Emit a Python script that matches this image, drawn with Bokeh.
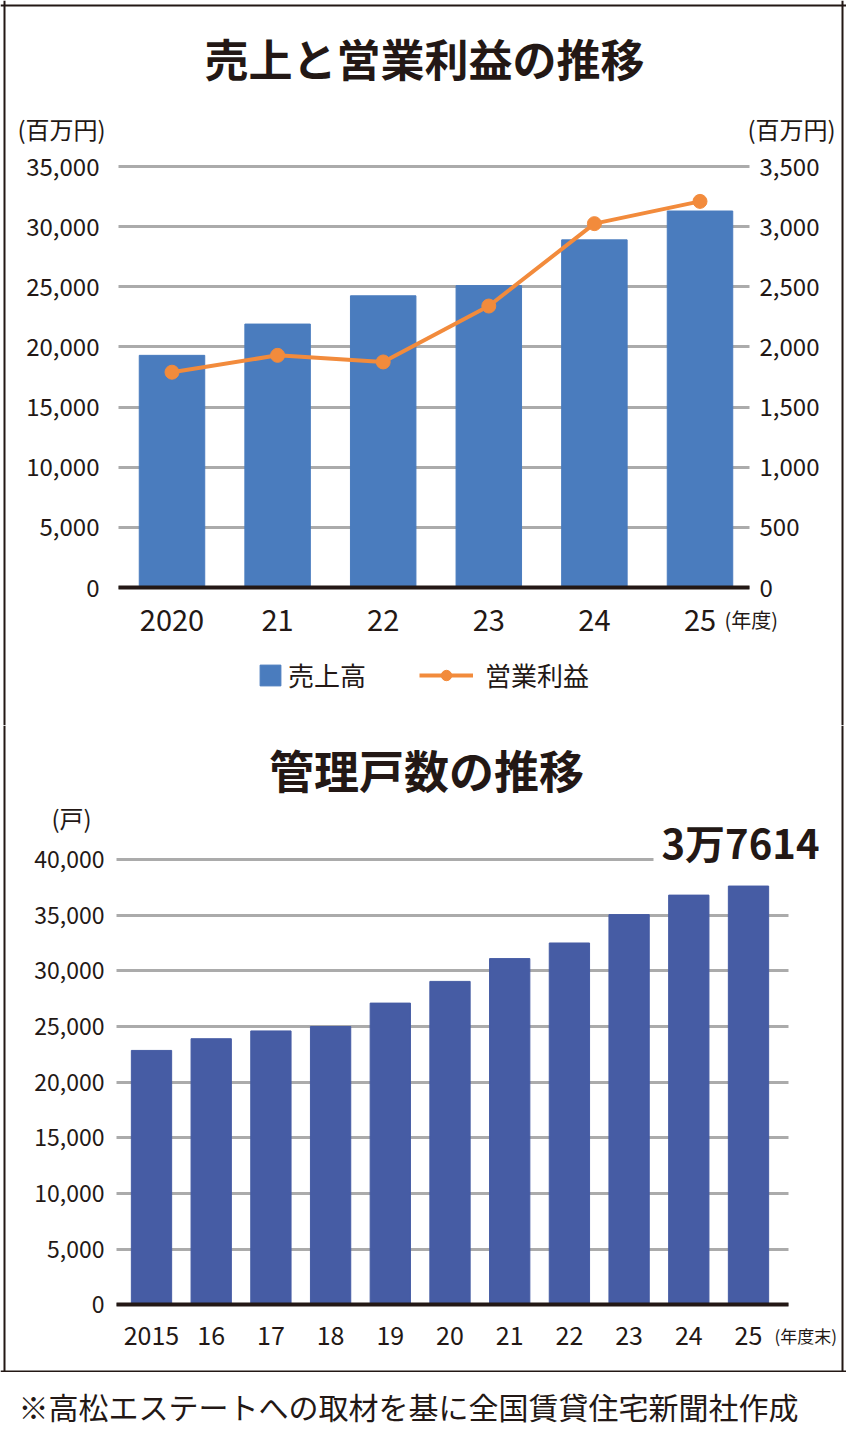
from bokeh.plotting import figure
from bokeh.layouts import column
from bokeh.models import (Range1d, LinearAxis, FixedTicker, NumeralTickFormatter,
                          Label, Legend, LegendItem, Span, Grid)
from bokeh.embed import file_html
from bokeh.resources import INLINE

# 売上と営業利益の推移 (百万円)
fy = ["2020", "21", "22", "23", "24", "25"]
sales = [19300, 21900, 24250, 25100, 28900, 31300]
op_profit = [1790, 1930, 1875, 2340, 3025, 3210]
sales_ticks = [0, 5000, 10000, 15000, 20000, 25000, 30000, 35000]
profit_ticks = [0, 500, 1000, 1500, 2000, 2500, 3000, 3500]

# 管理戸数の推移 (戸)
fy_end = ["2015", "16", "17", "18", "19", "20", "21", "22", "23", "24", "25"]
units = [22850, 23900, 24600, 25000, 27100, 29050, 31100, 32500, 35050, 36800, 37614]
unit_ticks = [0, 5000, 10000, 15000, 20000, 25000, 30000, 35000, 40000]
latest_label = "3万7614"

FONT = "Noto Sans CJK JP"
INK = "#231815"
BLUE = "#4A7CBE"
NAVY = "#465CA4"
ORANGE = "#F28B3C"
GRID = "#ABABAB"
W = 846
BOX_L, BOX_R = 4, 842   # outer frame line, canvas px


def make_chart(height, f_left, f_right, zero_px, top_px, top_val, x0_px, step_px,
               ticks, labels, label_size, standoff):
    # the frame fills the whole canvas; axes sit at fixed locations inside it
    k = (zero_px - top_px) / top_val

    def sx(px):
        return (px - x0_px) / step_px

    def sy(py):
        return (zero_px - py) / k

    p = figure(width=W, height=height, output_backend="svg", toolbar_location=None,
               x_range=Range1d(sx(0), sx(W)), y_range=Range1d(sy(height), sy(0)),
               min_border=0, outline_line_color=None)
    p.xgrid.visible = False
    p.ygrid.ticker = FixedTicker(ticks=ticks)
    if "cross_bounds" in Grid.properties():
        p.ygrid.grid_line_color = GRID
        p.ygrid.grid_line_width = 3
        p.ygrid.cross_bounds = (sx(f_left), sx(f_right))
    else:
        p.ygrid.visible = False
        p.segment(x0=sx(f_left), x1=sx(f_right), y0=ticks, y1=ticks,
                  line_color=GRID, line_width=3, level="underlay")

    ax = p.xaxis[0]
    ax.fixed_location = 0
    ax.bounds = (sx(f_left), sx(f_right))
    ax.ticker = FixedTicker(ticks=list(range(len(labels))))
    ax.major_label_overrides = {i: s for i, s in enumerate(labels)}
    ax.axis_line_color = INK
    ax.axis_line_width = 4
    ax.major_tick_line_color = None
    ax.minor_tick_line_color = None
    ax.major_label_text_font = FONT
    ax.major_label_text_font_size = label_size
    ax.major_label_text_color = INK
    ax.major_label_standoff = standoff

    ya = p.yaxis[0]
    ya.fixed_location = sx(f_left)
    ya.ticker = FixedTicker(ticks=ticks)
    ya.formatter = NumeralTickFormatter(format="0,0")
    ya.axis_line_color = None
    ya.major_tick_line_color = None
    ya.minor_tick_line_color = None
    ya.major_label_text_font = FONT
    ya.major_label_text_color = INK
    return p, sx, sy


def text(p, x, y, s, size, align="center", bold=False, **kw):
    lab = Label(x=x, y=y, text=s, text_font=FONT, text_font_size=size,
                text_color=INK, text_align=align, text_baseline="middle",
                text_font_style="bold" if bold else "normal", **kw)
    p.add_layout(lab)
    return lab


def border(p, sx, sy, sides, top, bottom):
    where = {"left": (sx(BOX_L), "height"), "right": (sx(BOX_R), "height"),
             "top": (sy(top), "width"), "bottom": (sy(bottom), "width")}
    for s in sides:
        loc, dim = where[s]
        p.add_layout(Span(location=loc, dimension=dim, line_color=INK, line_width=2))


# ---------------- top chart ----------------
H1 = 725
p1, sx1, sy1 = make_chart(H1, 118, 749, 587, 166, sales_ticks[-1], 171.5, 105.6,
                          sales_ticks, fy, "29px", 16)
p1.yaxis[0].major_label_text_font_size = "24px"
p1.yaxis[0].major_label_standoff = 13

ratio = sales_ticks[-1] / profit_ticks[-1]
p1.extra_y_ranges = {"profit": Range1d(p1.y_range.start / ratio, p1.y_range.end / ratio)}
right = LinearAxis(y_range_name="profit", ticker=FixedTicker(ticks=profit_ticks),
                   formatter=NumeralTickFormatter(format="0,0"), fixed_location=sx1(749))
right.axis_line_color = None
right.major_tick_line_color = None
right.minor_tick_line_color = None
right.major_label_text_font = FONT
right.major_label_text_font_size = "24px"
right.major_label_text_color = INK
right.major_label_standoff = 4
p1.add_layout(right, "right")

idx1 = list(range(len(fy)))
bars = p1.vbar(x=idx1, top=sales, width=0.62, color=BLUE)
pl = p1.line(x=idx1, y=op_profit, y_range_name="profit", line_width=4, color=ORANGE)
pd = p1.scatter(x=idx1, y=op_profit, y_range_name="profit", size=14, color=ORANGE)

text(p1, sx1(424), sy1(57), "売上と営業利益の推移", "44px", bold=True)
text(p1, sx1(61), sy1(128), "(百万円)", "24px")
text(p1, sx1(791), sy1(128), "(百万円)", "24px")
text(p1, sx1(724), sy1(619), "(年度)", "20px", align="left")

for items, loc, gw, st in (([LegendItem(label="売上高", renderers=[bars])], (257, 32), 26, 5),
                           ([LegendItem(label="営業利益", renderers=[pl, pd])], (419, 32), 54, 12)):
    leg = Legend(items=items, location=loc, glyph_width=gw, glyph_height=26,
                 label_standoff=st, label_text_font=FONT, label_text_font_size="26px",
                 label_text_color=INK, border_line_color=None, background_fill_alpha=0,
                 padding=0, margin=0)
    p1.add_layout(leg)
border(p1, sx1, sy1, ["left", "right", "top"], 5, H1)

# ---------------- bottom chart ----------------
H2 = 647
p2, sx2, sy2 = make_chart(H2, 116, 788, 579.3, 134, unit_ticks[-1], 151, 59.7,
                          unit_ticks, fy_end, "25px", 15)
p2.yaxis[0].major_label_text_font_size = "23px"
p2.yaxis[0].major_label_standoff = 6

idx2 = list(range(len(fy_end)))
p2.vbar(x=idx2, top=units, width=0.675, color=NAVY)

text(p2, sx2(426), sy2(44), "管理戸数の推移", "45px", bold=True)
text(p2, sx2(71), sy2(92), "(戸)", "24px")
text(p2, sx2(740), sy2(116), latest_label, "40px", bold=True,
     background_fill_color="white", padding=8)
text(p2, sx2(774), sy2(610), "(年度末)", "17px", align="left")
border(p2, sx2, sy2, ["left", "right", "bottom"], 0, H2 - 1)

# ---------------- footnote ----------------
H3 = 60
p3 = figure(width=W, height=H3, output_backend="svg", toolbar_location=None,
            x_range=Range1d(0, W), y_range=Range1d(0, H3),
            x_axis_type=None, y_axis_type=None, outline_line_color=None,
            min_border=0)
p3.grid.visible = False
text(p3, 18, H3 - 33, "※高松エステートへの取材を基に全国賃貸住宅新聞社作成", "30px", align="left")

root = column(p1, p2, p3)

open("out.html", "w").write(file_html(root, INLINE))
